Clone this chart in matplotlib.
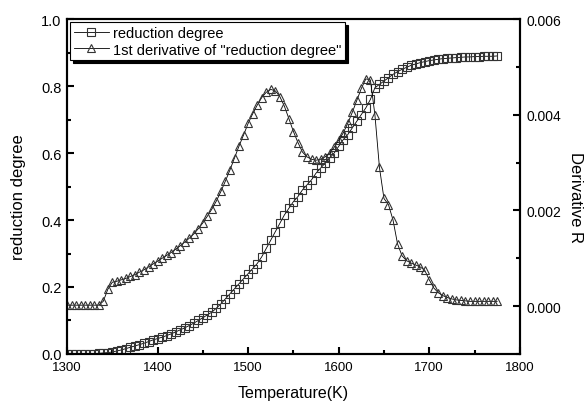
import numpy as np
import matplotlib
matplotlib.use("Agg")
import matplotlib.pyplot as plt
from matplotlib.ticker import MultipleLocator, FormatStrFormatter

plt.rcParams["font.family"] = ["Liberation Sans", "DejaVu Sans"]

# temperature grid, 5 K steps
temperature = np.arange(1300, 1780, 5)

reduction = [
    0.0, 0.0, 0.0, 0.0, 0.0, 0.0, 0.001, 0.002, 0.003, 0.004,
    0.006, 0.009, 0.012, 0.016, 0.020, 0.024, 0.028, 0.032, 0.037, 0.042,
    0.046, 0.050, 0.055, 0.060, 0.066, 0.072, 0.078, 0.085, 0.092, 0.100,
    0.108, 0.117, 0.125, 0.137, 0.150, 0.165, 0.180, 0.195, 0.210, 0.225,
    0.240, 0.255, 0.270, 0.290, 0.315, 0.340, 0.365, 0.390, 0.415, 0.435,
    0.455, 0.470, 0.490, 0.505, 0.520, 0.540, 0.555, 0.570, 0.585, 0.600,
    0.620, 0.640, 0.655, 0.675, 0.695, 0.715, 0.735, 0.760, 0.795, 0.805,
    0.815, 0.825, 0.835, 0.843, 0.850, 0.856, 0.862, 0.866, 0.870, 0.873,
    0.876, 0.878, 0.880, 0.882, 0.883, 0.884, 0.885, 0.886, 0.887, 0.887,
    0.888, 0.888, 0.889, 0.889, 0.889, 0.890,
]

# derivative in units of 1e-3
derivative_e3 = [
    0.02, 0.02, 0.02, 0.02, 0.02, 0.02, 0.02, 0.02, 0.10, 0.35,
    0.50, 0.52, 0.55, 0.58, 0.62, 0.66, 0.71, 0.76, 0.82, 0.88,
    0.94, 1.00, 1.06, 1.12, 1.19, 1.26, 1.34, 1.42, 1.51, 1.62,
    1.74, 1.88, 2.03, 2.20, 2.40, 2.62, 2.85, 3.10, 3.35, 3.58,
    3.82, 4.02, 4.20, 4.36, 4.47, 4.53, 4.50, 4.38, 4.18, 3.92,
    3.65, 3.42, 3.22, 3.12, 3.07, 3.05, 3.07, 3.12, 3.20, 3.32,
    3.47, 3.62, 3.82, 4.05, 4.30, 4.55, 4.75, 4.73, 4.00, 2.90,
    2.25, 2.12, 1.80, 1.30, 1.05, 0.95, 0.90, 0.86, 0.82, 0.75,
    0.55, 0.38, 0.28, 0.22, 0.18, 0.15, 0.13, 0.12, 0.11, 0.10,
    0.10, 0.10, 0.10, 0.10, 0.10, 0.10,
]
derivative = np.array(derivative_e3) * 1e-3

fig = plt.figure(figsize=(5.88, 4.02), dpi=100)
ax = fig.add_axes([0.114, 0.117, 0.770, 0.833])
ax2 = ax.twinx()

mk = dict(markerfacecolor="none", markeredgecolor="#333333", markersize=5.5,
          markeredgewidth=0.8, color="black", linewidth=0.6)
l1, = ax.plot(temperature, reduction, marker="s", label="reduction degree", **mk)
l2, = ax2.plot(temperature, derivative, marker="^",
               label='1st derivative of "reduction degree"', **mk)

ax.set_xlim(1300, 1800)
ax.set_ylim(0, 1.0)
ax2.set_ylim(-0.001, 0.006)

ax.xaxis.set_major_locator(MultipleLocator(100))
ax.xaxis.set_minor_locator(MultipleLocator(50))
ax.yaxis.set_major_locator(MultipleLocator(0.2))
ax.yaxis.set_minor_locator(MultipleLocator(0.1))
ax.yaxis.set_major_formatter(FormatStrFormatter("%.1f"))
ax2.yaxis.set_minor_locator(MultipleLocator(0.001))
ax2.yaxis.set_major_formatter(FormatStrFormatter("%.3f"))
ax2.set_yticks([0.0, 0.002, 0.004, 0.006])

for a in (ax, ax2):
    for s in a.spines.values():
        s.set_linewidth(1.5)
    a.tick_params(which="major", direction="in", length=5, width=1.5)
    a.tick_params(which="minor", direction="in", length=3, width=1.5)
ax.tick_params(which="both", top=False, right=False)
ax.tick_params(axis="x", labelsize=9.5, pad=5)
ax.tick_params(axis="y", labelsize=10.5, pad=4)
ax2.tick_params(axis="y", labelsize=10, pad=5)

ax.set_xlabel("Temperature(K)", fontsize=11.5)
ax.xaxis.set_label_coords(0.5, -0.093)
ax.set_ylabel("reduction degree", fontsize=12)
ax.yaxis.set_label_coords(-0.09, 0.47)
ax2.set_ylabel("Derivative R", fontsize=12, rotation=270, va="center")
ax2.yaxis.set_label_coords(1.124, 0.47)

leg = ax2.legend(handles=[l1, l2], loc="upper left", bbox_to_anchor=(0, 1),
                 borderaxespad=0.2, fancybox=False, edgecolor="black",
                 framealpha=1, fontsize=10.5, handlelength=2.4, handletextpad=0.3,
                 labelspacing=0.2, borderpad=0.25,
                 shadow={"color": "black", "alpha": 1})
leg.get_frame().set_linewidth(0.8)

fig.savefig("out.png", dpi=100)
